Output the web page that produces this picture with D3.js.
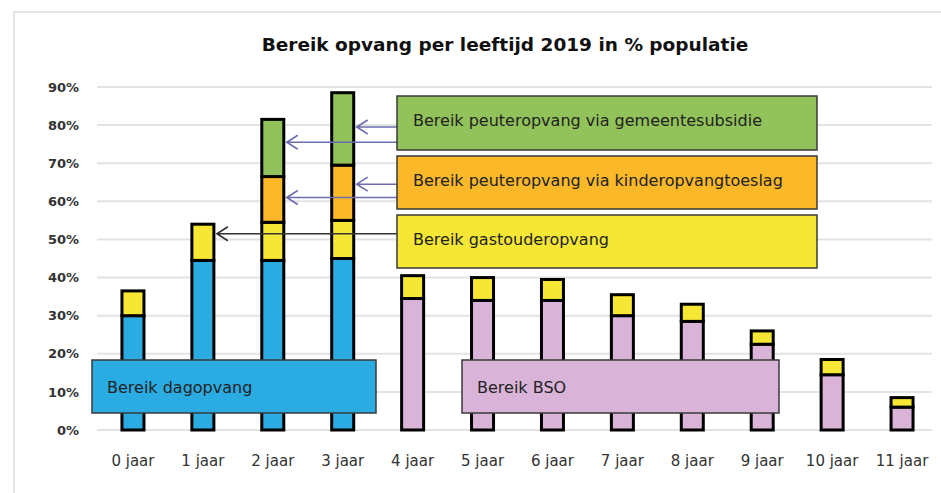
<!DOCTYPE html>
<html>
<head>
<meta charset="utf-8">
<script src="https://cdn.jsdelivr.net/npm/d3@7"></script>
<style>
  body { margin: 0; background: #fff; }
  svg { display: block; font-family: "DejaVu Sans", Verdana, sans-serif; }
</style>
</head>
<body>
<svg id="chart" width="941" height="493"></svg>
<script>
// values, % of population per age
const ages = ["0 jaar", "1 jaar", "2 jaar", "3 jaar", "4 jaar", "5 jaar", "6 jaar", "7 jaar", "8 jaar", "9 jaar", "10 jaar", "11 jaar"];
const dagopvang  = [30, 44.5, 44.5, 45, 0, 0, 0, 0, 0, 0, 0, 0];
const bso        = [0, 0, 0, 0, 34.5, 34, 34, 30, 28.5, 22.5, 14.5, 6];
const gastouder  = [6.5, 9.5, 10, 10, 6, 6, 5.5, 5.5, 4.5, 3.5, 4, 2.5];
const toeslag    = [0, 0, 12, 14.5, 0, 0, 0, 0, 0, 0, 0, 0];
const subsidie   = [0, 0, 15, 19, 0, 0, 0, 0, 0, 0, 0, 0];
const yTicks = [0, 10, 20, 30, 40, 50, 60, 70, 80, 90];

const title = "Bereik opvang per leeftijd 2019 in % populatie";
const keys = ["dagopvang", "bso", "gastouder", "toeslag", "subsidie"];
const colors = {
  dagopvang: "#2aabe2",
  bso: "#dab4d8",
  gastouder: "#f5e733",
  toeslag: "#fbb829",
  subsidie: "#92c25a"
};

// label boxes (text + which series they describe)
const labelBoxes = [
  { key: "subsidie",  text: "Bereik peuteropvang via gemeentesubsidie",   x: 397, y: 96,  w: 420, h: 54 },
  { key: "toeslag",   text: "Bereik peuteropvang via kinderopvangtoeslag", x: 397, y: 156, w: 420, h: 53 },
  { key: "gastouder", text: "Bereik gastouderopvang",                     x: 397, y: 215, w: 420, h: 53 },
  { key: "dagopvang", text: "Bereik dagopvang",                           x: 92,  y: 360, w: 284, h: 53 },
  { key: "bso",       text: "Bereik BSO",                                 x: 462, y: 360, w: 317, h: 53 }
];

// arrows from a box to a segment: age + level (%) it points at
const arrows = [
  { key: "subsidie",  age: "3 jaar", level: 79.5 },
  { key: "subsidie",  age: "2 jaar", level: 75.5 },
  { key: "toeslag",   age: "3 jaar", level: 64.5 },
  { key: "toeslag",   age: "2 jaar", level: 61 },
  { key: "gastouder", age: "1 jaar", level: 51.5 }
];

const data = ages.map((a, i) => ({
  age: a,
  dagopvang: dagopvang[i],
  bso: bso[i],
  gastouder: gastouder[i],
  toeslag: toeslag[i],
  subsidie: subsidie[i]
}));

const svg = d3.select("#chart");

// faint frame
svg.append("path")
   .attr("d", "M14,493 L14,12 L941,12")
   .attr("fill", "none")
   .attr("stroke", "#e6e6e6")
   .attr("stroke-width", 2);

const xScale = d3.scaleBand()
                 .domain(ages)
                 .range([98, 937]);

const yScale = d3.scaleLinear()
                 .domain([0, 90])
                 .range([430, 87]);

// gridlines
svg.append("g")
   .selectAll("line")
   .data(yTicks)
   .join("line")
     .attr("x1", 97)
     .attr("x2", 932)
     .attr("y1", d => yScale(d))
     .attr("y2", d => yScale(d))
     .attr("stroke", "#e3e3e3")
     .attr("stroke-width", 2);

const yAxis = d3.axisLeft(yScale)
                .tickValues(yTicks)
                .tickFormat(d => d + "%")
                .tickSize(0)
                .tickPadding(0);

const yG = svg.append("g")
              .attr("transform", "translate(79,0)")
              .call(yAxis);
yG.select(".domain").remove();
yG.selectAll("text")
  .attr("font-family", "DejaVu Sans")
  .attr("font-size", 13)
  .attr("font-weight", "bold")
  .attr("fill", "#333");

const xAxis = d3.axisBottom(xScale).tickSize(0).tickPadding(0);
const xG = svg.append("g")
              .attr("transform", "translate(0,455)")
              .call(xAxis);
xG.select(".domain").remove();
xG.selectAll("text")
  .attr("font-family", "DejaVu Sans")
  .attr("font-size", 15)
  .attr("fill", "#333");

// stacked bars
const stacked = d3.stack().keys(keys)(data);
const barW = 22;

svg.append("g")
   .selectAll("g")
   .data(stacked)
   .join("g")
     .attr("fill", d => colors[d.key])
   .selectAll("rect")
   .data(d => d.filter(s => s[1] - s[0] > 0))
   .join("rect")
     .attr("x", d => xScale(d.data.age) + xScale.bandwidth() / 2 - barW / 2)
     .attr("width", barW)
     .attr("y", d => yScale(d[1]))
     .attr("height", d => yScale(d[0]) - yScale(d[1]))
     .attr("stroke", "#000")
     .attr("stroke-width", 3);

// arrows
const arrowColor = k => k === "gastouder" ? "#333" : "#6c6cb0";
const boxByKey = Object.fromEntries(labelBoxes.map(b => [b.key, b]));
const ag = svg.append("g").attr("fill", "none").attr("stroke-width", 1.6);
arrows.forEach(a => {
  const tipX = xScale(a.age) + xScale.bandwidth() / 2 + barW / 2 + 3;
  const y = yScale(a.level);
  const x0 = boxByKey[a.key].x;
  ag.append("path")
    .attr("d", `M${x0},${y} L${tipX},${y} M${tipX + 11},${y - 7} L${tipX},${y} L${tipX + 11},${y + 7}`)
    .attr("stroke", arrowColor(a.key));
});

// label boxes
const lb = svg.append("g")
              .selectAll("g")
              .data(labelBoxes)
              .join("g");
lb.append("rect")
  .attr("x", d => d.x)
  .attr("y", d => d.y)
  .attr("width", d => d.w)
  .attr("height", d => d.h)
  .attr("fill", d => colors[d.key])
  .attr("stroke", "#3a3a3a")
  .attr("stroke-width", 1.5);
lb.append("text")
  .attr("x", d => d.x + (d.key === "dagopvang" || d.key === "bso" ? 15 : 16))
  .attr("y", d => d.y + (d.key === "dagopvang" || d.key === "bso" ? 27 : 24))
  .attr("dy", "0.35em")
  .attr("font-size", 16)
  .attr("fill", "#222")
  .text(d => d.text);

// title
svg.append("text")
   .attr("x", 505)
   .attr("y", 45)
   .attr("dy", "0.35em")
   .attr("text-anchor", "middle")
   .attr("font-size", 18.5)
   .attr("font-weight", "bold")
   .attr("fill", "#111")
   .text(title);
</script>
</body>
</html>
